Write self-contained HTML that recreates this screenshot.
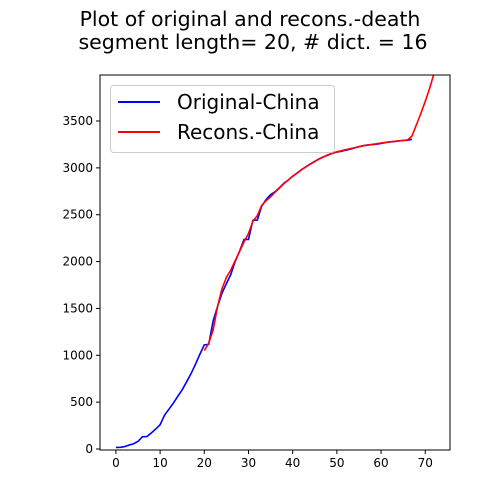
<!DOCTYPE html>
<html><head><meta charset="utf-8"><style>
body{margin:0;background:#fff;}
svg{display:block;font-family:"DejaVu Sans","Liberation Sans",sans-serif;}
</style></head><body>
<svg id="chart" width="500" height="500">
<text x="250" y="26" text-anchor="middle" font-size="20.5">Plot of original and recons.-death</text>
<text x="253" y="49" text-anchor="middle" font-size="20.5">segment length= 20, # dict. = 16</text>
<g id="plot"></g>
</svg>
<script>
const origX=[...Array(68).keys()];
const origY=[17,18,26,42,56,82,131,133,171,213,259,361,425,490,562,632,717,804,904,1011,1111,1116,1367,1520,1663,1765,1863,2002,2114,2236,2236,2441,2443,2593,2663,2715,2744,2788,2835,2870,2912,2943,2981,3012,3042,3070,3097,3119,3136,3158,3169,3176,3189,3199,3213,3226,3237,3245,3249,3253,3261,3270,3277,3281,3287,3292,3295,3305];
const reconX=[20,21,22,23,24,25,26,27,28,29,30,31,32,33,34,35,36,37,38,39,40,42,44,46,48,50,52,54,56,58,60,62,64,66,67,68,69,70,71,72];
const reconY=[1050,1130,1270,1520,1710,1830,1910,2010,2110,2210,2300,2430,2490,2600,2650,2690,2740,2785,2830,2870,2910,2980,3040,3095,3140,3170,3195,3215,3235,3250,3265,3278,3288,3298,3340,3460,3580,3710,3850,4010];
const xTicks=[0,10,20,30,40,50,60,70];
const yTicks=[0,500,1000,1500,2000,2500,3000,3500];
const L=100,R=450,T=75,B=450;
const xmin=-3.6,xmax=75.6;
function sx(v){return L+(v-xmin)/(xmax-xmin)*(R-L);}
function sy(v){return 449-v*0.09371;}
const NS="http://www.w3.org/2000/svg";
const g=document.getElementById('plot');
function mk(t,a,p){const e=document.createElementNS(NS,t);for(const k in a)e.setAttribute(k,a[k]);(p||g).appendChild(e);return e;}
const defs=mk('defs',{});const cp=mk('clipPath',{id:'c'},defs);mk('rect',{x:L,y:T,width:R-L,height:B-T},cp);
function line(xs,ys,col,name){
  const p=mk('polyline',{points:xs.map((x,i)=>sx(x)+','+sy(ys[i])).join(' '),fill:'none',stroke:col,'stroke-width':1.6,'clip-path':'url(#c)'});
  
  
}
line(origX,origY,'#0000ff','original-china-line');
line(reconX,reconY,'#ff0000','recons-china-line');
const fr=mk('rect',{x:L,y:T,width:R-L,height:B-T,fill:'none',stroke:'#000','stroke-width':1});


xTicks.forEach(v=>{
  const x=sx(v);
  mk('line',{x1:x,x2:x,y1:B,y2:B+4,stroke:'#000'});
  const t=mk('text',{x:x,y:B+17,'text-anchor':'middle','font-size':12});
  t.textContent=v;
  
  
});
yTicks.forEach(v=>{
  const y=sy(v);
  mk('line',{x1:L-4,x2:L,y1:y,y2:y,stroke:'#000'});
  const t=mk('text',{x:L-7,y:y+4,'text-anchor':'end','font-size':12});
  t.textContent=v;
  
  
});
const lg=mk('g',{});


mk('rect',{x:110.5,y:85.5,width:224,height:67,rx:3,fill:'#fff','fill-opacity':0.8,stroke:'#ccc'},lg);
mk('line',{x1:118,x2:160,y1:102,y2:102,stroke:'#0000ff','stroke-width':2},lg);
mk('line',{x1:118,x2:160,y1:132,y2:132,stroke:'#ff0000','stroke-width':2},lg);
const t1=mk('text',{x:177,y:109,'font-size':20},lg);t1.textContent='Original-China';


const t2=mk('text',{x:177,y:139,'font-size':20},lg);t2.textContent='Recons.-China';


</script>
</body></html>
